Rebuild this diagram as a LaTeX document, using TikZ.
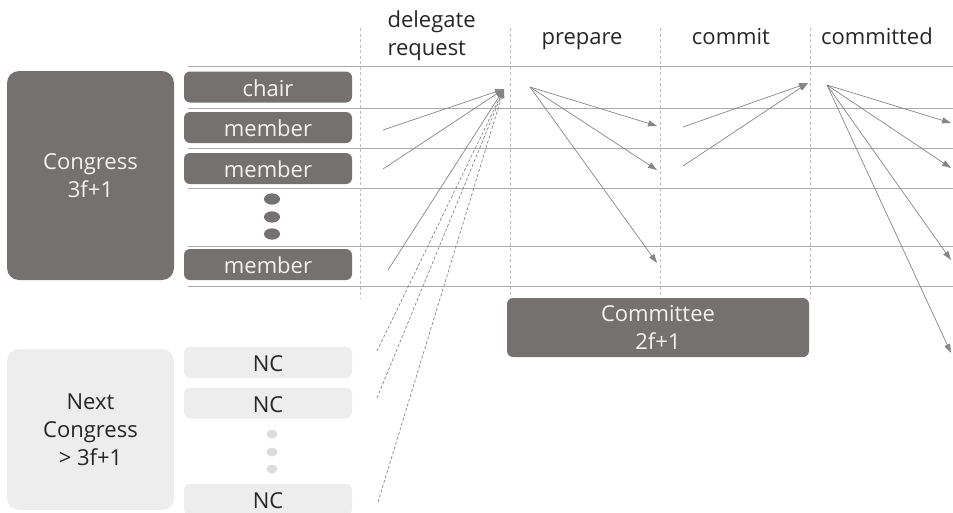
\documentclass[tikz,border=0pt]{standalone}
\usepackage{fontspec}
\setmainfont{Open Sans}
\usetikzlibrary{arrows.meta, positioning}

\definecolor{boxgray}{HTML}{767171}
\definecolor{ncgray}{HTML}{EDEDED}
\definecolor{dotgray}{HTML}{DCDCDC}
\definecolor{linegray}{HTML}{ABABAB}
\definecolor{dashgray}{HTML}{BDBDBD}
\definecolor{arrowgray}{HTML}{858585}

\tikzset{
  darkbox/.style={fill=boxgray, text=white!95!black, rounded corners=6pt, align=center, inner sep=0pt},
  lightbox/.style={fill=ncgray, text=black!85, rounded corners=6pt, align=center, inner sep=0pt},
  rowbox/.style={minimum width=168pt, minimum height=31pt, text height=18pt, text depth=0pt},
  phasehdr/.style={text=black!85, anchor=base},
  rowline/.style={draw=linegray, line width=0.8pt},
  phaseline/.style={draw=dashgray, line width=0.7pt, dash pattern=on 3pt off 2.5pt},
  msg/.style={draw=arrowgray, line width=0.7pt, -{Triangle[length=9pt, width=6pt]}},
  nextmsg/.style={msg, dash pattern=on 3pt off 2pt}
}

\begin{document}
\begin{tikzpicture}[x=1pt, y=-1pt, font=\fontsize{22}{28}\selectfont]
    \useasboundingbox (0,0) rectangle (953,512);

    % Grid
    \foreach \y in {66,108,148,188,246,286}
        \draw[rowline] (188,\y) -- (953,\y);
    \foreach \x in {360,510,660,810}
        \draw[phaseline] (\x,28) -- (\x,298);

    % Phases
    \node[text=black!85, align=left, anchor=west] (delreq) at (384,35.5) {delegate\\request};
    \node[phasehdr] (prep) at (582,44) {prepare};
    \node[phasehdr] (comm) at (731,44) {commit};
    \node[phasehdr] (commd) at (877,44) {committed};

    % Congress
    \node[darkbox, rounded corners=12pt, minimum width=167pt, minimum height=209pt] (congress) at (90.5,175.5) {Congress\\3f+1};
    \foreach \n/\t/\y in {chair/chair/87, mema/member/127.5, memb/member/168.5, memn/member/264.5}
        \node[darkbox, rowbox] (\n) at (268,\y) {\t};
    \foreach \y in {199,217,234}
        \fill[boxgray] (272,\y) ellipse (8 and 5.7);

    % Next congress
    \node[lightbox, rounded corners=12pt, minimum width=167pt, minimum height=161pt] (nextcong) at (90.5,429.5) {Next\\Congress\\> 3f+1};
    \foreach \n/\y in {nca/362.5, ncb/403, ncn/499.5}
        \node[lightbox, rowbox] (\n) at (268,\y) {NC};
    \foreach \y in {434,452,469}
        \fill[dotgray] (272,\y) ellipse (5.5 and 4.5);

    % Committee
    \node[darkbox, minimum width=302pt, minimum height=59pt] (committee) at (658,327.5) {Committee\\2f+1};

    % Message end points
    \coordinate (drto) at (504,89);
    \coordinate (drma) at (383,130);
    \coordinate (drmb) at (383,169);
    \coordinate (drmn) at (388,270);
    \coordinate (drna) at (377,351);
    \coordinate (drnb) at (377,398);
    \coordinate (drnn) at (378,502);
    \coordinate (ppfrom) at (530,87);
    \coordinate (ppa) at (657,126);
    \coordinate (ppb) at (657,170);
    \coordinate (ppn) at (657,263);
    \coordinate (cma) at (683,127);
    \coordinate (cmb) at (683,166);
    \coordinate (cmto) at (808,83);
    \coordinate (cdfrom) at (827,85);
    \coordinate (cda) at (951,123);
    \coordinate (cdb) at (951,168);
    \coordinate (cdn) at (951,260);
    \coordinate (cdx) at (951,353);

    % delegate request
    \draw[msg] (drma) -- (drto);
    \draw[msg] (drmb) -- (drto);
    \draw[msg] (drmn) -- (drto);
    \draw[nextmsg] (drna) -- (drto);
    \draw[nextmsg] (drnb) -- (drto);
    \draw[nextmsg] (drnn) -- (drto);

    % prepare
    \draw[msg] (ppfrom) -- (ppa);
    \draw[msg] (ppfrom) -- (ppb);
    \draw[msg] (ppfrom) -- (ppn);

    % commit
    \draw[msg] (cma) -- (cmto);
    \draw[msg] (cmb) -- (cmto);

    % committed
    \draw[msg] (cdfrom) -- (cda);
    \draw[msg] (cdfrom) -- (cdb);
    \draw[msg] (cdfrom) -- (cdn);
    \draw[msg] (cdfrom) -- (cdx);
\end{tikzpicture}
\end{document}
